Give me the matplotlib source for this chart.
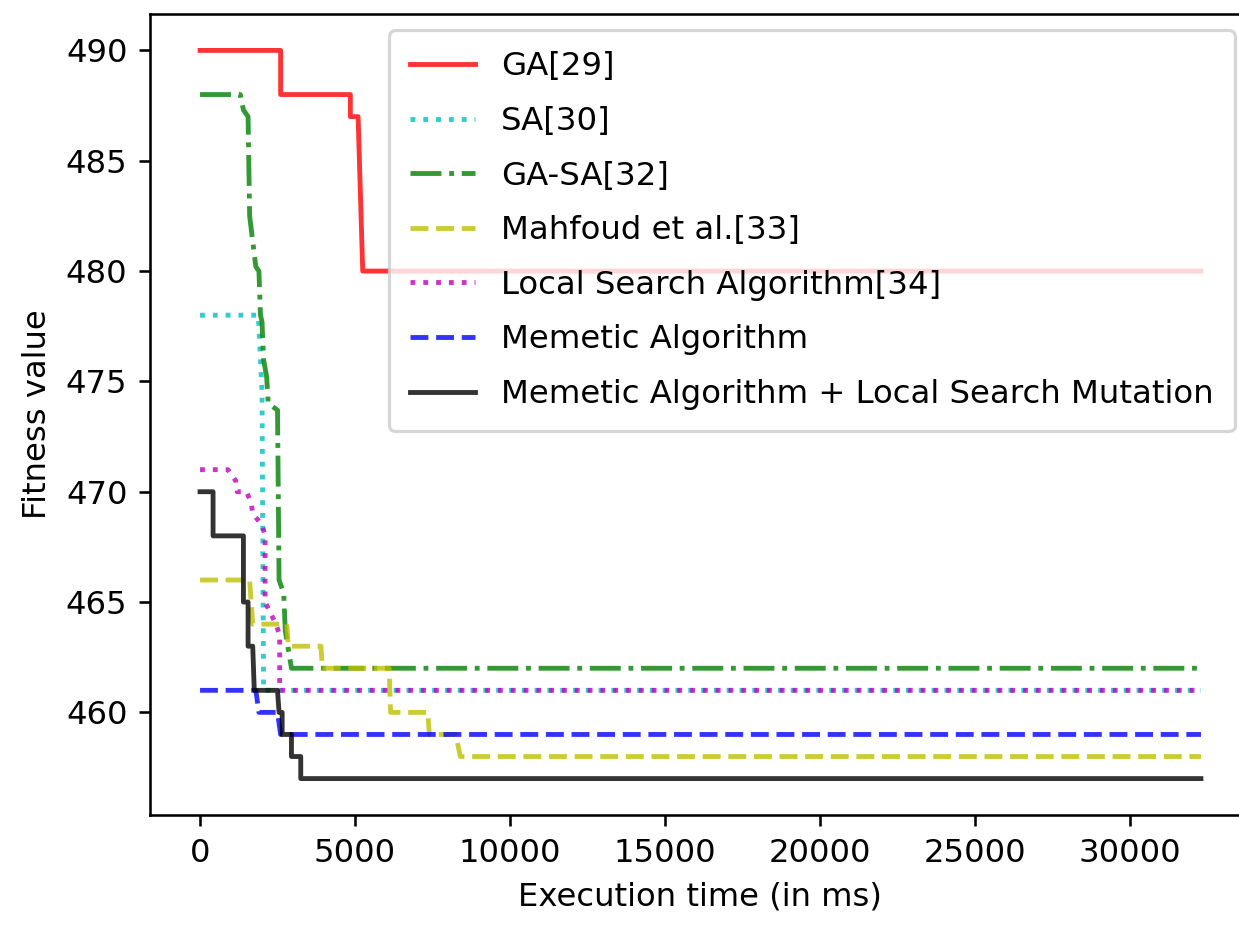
import matplotlib
matplotlib.use('Agg')
import matplotlib.pyplot as plt

# step curves: (time in ms, fitness)
ga_x = [0, 2600, 2600, 4850, 4850, 5100, 5250, 32300]
ga_y = [490, 490, 488, 488, 487, 487, 480, 480]

sa_x = [0, 1880, 1950, 2000, 2050, 32300]
sa_y = [478, 478, 476, 474.5, 461, 461]

gasa_x = [0, 1300, 1400, 1550, 1600, 1800, 1900, 1950, 2000, 2050, 2150, 2200,
          2500, 2550, 2700, 2750, 2950, 32300]
gasa_y = [488, 488, 487.3, 487, 482.5, 480.2, 480, 478, 477.7, 476, 475.2, 474,
          473.7, 466, 465.4, 463.7, 462, 462]

mahfoud_x = [0, 1600, 1700, 2800, 2850, 3900, 3950, 6100, 6150, 7350, 7400,
             8250, 8400, 32300]
mahfoud_y = [466, 466, 464, 464, 463, 463, 462, 462, 460, 460, 459,
             459, 458, 458]

ls_x = [0, 900, 1150, 1200, 1500, 1650, 1700, 2000, 2100, 2100, 2450, 2570,
        2570, 32300]
ls_y = [471, 471, 470.5, 470, 470, 469.5, 469, 468.5, 468, 465, 464, 463.5,
        461, 461]

ma_x = [0, 1800, 1900, 2500, 2600, 32300]
ma_y = [461, 461, 460, 460, 459, 459]

mals_x = [0, 420, 420, 1400, 1400, 1550, 1550, 1700, 1750, 2500, 2550, 2650,
          2650, 2950, 2950, 3250, 3250, 32300]
mals_y = [470, 470, 468, 468, 465, 465, 463, 463, 461, 461, 460, 460,
          459, 459, 458, 458, 457, 457]

# the reference is a small notebook figure blown up ~3.2x
dpi = 232
fig = plt.figure(figsize=(1239 / dpi, 928 / dpi), dpi=dpi)
ax = fig.add_axes([150 / 1239, 1 - 815 / 928, 1101 / 1239, 801 / 928])

ax.plot(ga_x, ga_y, 'r-', alpha=0.8, label='GA[29]')
ax.plot(sa_x, sa_y, 'c:', alpha=0.8, label='SA[30]')
ax.plot(gasa_x, gasa_y, 'g-.', alpha=0.8, label='GA-SA[32]')
ax.plot(mahfoud_x, mahfoud_y, 'y--', alpha=0.8, label='Mahfoud et al.[33]')
ax.plot(ls_x, ls_y, 'm:', alpha=0.8, label='Local Search Algorithm[34]')
ax.plot(ma_x, ma_y, 'b--', alpha=0.8, label='Memetic Algorithm')
ax.plot(mals_x, mals_y, 'k-', alpha=0.8,
        label='Memetic Algorithm + Local Search Mutation')

ax.set_xlabel('Execution time (in ms)')
ax.set_ylabel('Fitness value')
ax.legend(loc='upper right', labelspacing=0.73, borderpad=0.65,
          prop={'size': 10.05})

fig.savefig('out.png', dpi=dpi)
